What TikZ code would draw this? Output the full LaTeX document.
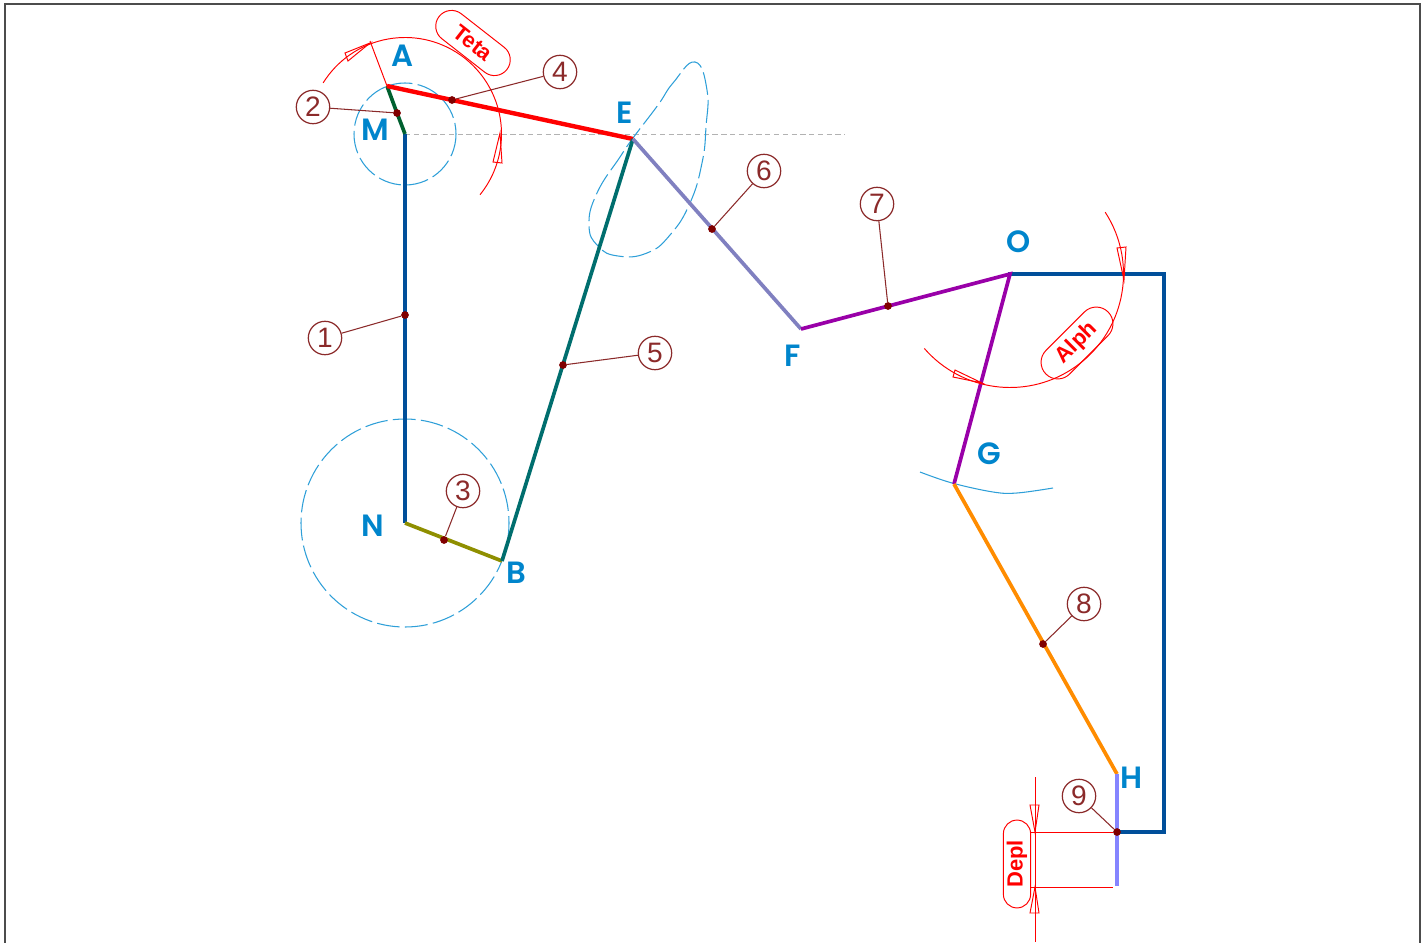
\documentclass[tikz,border=0pt]{standalone}
\usepackage{fontspec}
\usepackage{tikz}
\usetikzlibrary{shapes.misc}
\setmainfont{Poppins}
\newfontfamily\callfont{Liberation Sans}
\newfontfamily\letterfont{Poppins SemiBold}
\definecolor{linkblue}{HTML}{004F9A}
\definecolor{linkgreen}{HTML}{00602F}
\definecolor{linkolive}{HTML}{8F8F00}
\definecolor{linkteal}{HTML}{006E6E}
\definecolor{linklilac}{HTML}{8080C0}
\definecolor{linkpurple}{HTML}{9900A8}
\definecolor{linkorange}{HTML}{FF8C00}
\definecolor{linkslide}{HTML}{8585FF}
\definecolor{callred}{HTML}{8B2A2A}
\definecolor{dotred}{HTML}{800000}
\definecolor{pathblue}{HTML}{2E9FD8}
\definecolor{letterblue}{HTML}{0085CC}
\tikzset{
  link/.style={line width=2.1pt},
  pathline/.style={color=pathblue,line width=0.6pt},
  pathdash/.style={pathline,dash pattern=on 13pt off 3pt},
  dimline/.style={color=red,line width=0.55pt},
  letter/.style={text=letterblue,font=\letterfont\fontsize{17.5}{17.5}\selectfont},
  balloon/.style={draw=callred,circle,line width=0.7pt,minimum size=19pt,inner sep=0pt,
    text=callred,font=\callfont\fontsize{16}{16}\selectfont},
  dot/.style={circle,fill=dotred,minimum size=4.4pt,inner sep=0pt},
  leader/.style={color=callred,line width=0.6pt},
  pill/.style={draw=red,rounded rectangle,line width=0.55pt,inner sep=0pt,text=red,
    font=\callfont\fontsize{12.5}{12.5}\selectfont\bfseries}
}
\begin{document}
\begin{tikzpicture}[x=0.02cm,y=-0.02cm]
  \useasboundingbox (0,0) rectangle (1427,943);
  % frame
  \draw[color=black!70,line width=0.6pt] (5,943) -- (5,4) -- (1420,4) -- (1420,943);
  % joints
  \coordinate (M) at (405,134);
  \coordinate (N) at (405,523);
  \coordinate (A) at (387,86);
  \coordinate (B) at (502,561);
  \coordinate (E) at (633,139);
  \coordinate (F) at (801,329);
  \coordinate (O) at (1010,274);
  \coordinate (G) at (954,484);
  \coordinate (H) at (1117,774);
  \coordinate (Hend) at (1117,886);
  \coordinate (J) at (1117,832);
  \coordinate (Ocorner) at (1164,274);
  \coordinate (Jcorner) at (1164,832);
  \coordinate (Mline) at (845,134);
  % paths of the joints
  \draw[color=black!30,line width=0.55pt,densely dashed] (M) -- (Mline);
  \draw[pathdash] (M) circle [radius=51];
  \draw[pathdash] (N) circle [radius=104];
  \draw[pathdash] plot [smooth cycle,tension=0.8] coordinates {(695,62) (673,83) (658,105)
    (633,138) (620,157) (597,193) (589,225) (598,246) (618,256) (647,253) (670,235)
    (690,203) (702,163) (706,127) (707,90)};
  \draw[pathline] plot [smooth,tension=0.6] coordinates {(920,472) (952,483) (993,492) (1017,493) (1053,488)};
  % links
  \draw[link,color=linkblue] (M) -- (N);
  \draw[link,color=linkgreen] (A) -- (397,113) -- (M);
  \draw[link,color=linkolive] (N) -- (B);
  \draw[link,color=red,line width=2.5pt] (A) -- (E);
  \draw[link,color=linkteal] (B) -- (E);
  \draw[link,color=linklilac] (E) -- (F);
  \draw[link,color=linkblue,line cap=rect] (O) -- (Ocorner) -- (Jcorner) -- (J);
  \draw[link,color=linkpurple] (F) -- (O) -- (G);
  \draw[link,color=linkorange] (G) -- (H);
  \draw[link,color=linkslide] (H) -- (Hend);
  % angle Teta
  \draw[dimline] (M) ++(-148:96.5) arc [start angle=-148,end angle=39,radius=96.5];
  \draw[dimline] (A) -- (370,41);
  \draw[dimline] (370,43) -- (345,53) -- (348,61) -- cycle;
  \draw[dimline] (500,133) -- (493,162) -- (502,163) -- cycle;
  \node[pill,rotate=-38,minimum width=49pt,minimum height=18pt] (teta) at (473,43) {Teta};
  % angle Alph
  \draw[dimline] (O) ++(-33:113.5) arc [start angle=-33,end angle=139,radius=113.5];
  \draw[dimline] (1124,280) -- (1117,248) -- (1126,247) -- cycle;
  \draw[dimline] (982,383) -- (955,370) -- (953,377) -- cycle;
  \node[pill,rotate=45,minimum width=50pt,minimum height=19pt] (alph) at (1077,343) {Alph};
  % displacement Depl
  \coordinate (Dtop) at (1035,777);
  \coordinate (Dbot) at (1035,942);
  \draw[dimline] (Dtop) -- (Dbot);
  \draw[dimline] (1030,832) -- (1113,832);
  \draw[dimline] (1030,887) -- (1113,887);
  \draw[dimline] (1035,832) -- (1030,805) -- (1039,805) -- cycle;
  \draw[dimline] (1035,887) -- (1030,913) -- (1039,913) -- cycle;
  \node[pill,rotate=90,minimum width=50pt,minimum height=15.5pt] (depl) at (1017,864) {Depl};
  % letters
  \node[letter] (lA) at (403,56) {A};
  \node[letter] (lM) at (375,130) {M};
  \node[letter] (lE) at (625,113) {E};
  \node[letter] (lN) at (373,526) {N};
  \node[letter] (lB) at (516,573) {B};
  \node[letter] (lF) at (793,356) {F};
  \node[letter] (lO) at (1019,242) {O};
  \node[letter] (lG) at (989,454) {G};
  \node[letter] (lH) at (1132,778) {H};
  % balloons
  \node[dot] (d1) at (405,315) {};
  \node[dot] (d2) at (397,113) {};
  \node[dot] (d3) at (444,540) {};
  \node[dot] (d4) at (452,100) {};
  \node[dot] (d5) at (563,365) {};
  \node[dot] (d6) at (712,229) {};
  \node[dot] (d7) at (888,306) {};
  \node[dot] (d8) at (1043,644) {};
  \node[dot] (d9) at (1117,832) {};
  \node[balloon] (b1) at (325,338) {1};
  \node[balloon] (b2) at (313,107) {2};
  \node[balloon] (b3) at (463,491) {3};
  \node[balloon] (b4) at (560,72) {4};
  \node[balloon] (b5) at (655,353) {5};
  \node[balloon] (b6) at (764,171) {6};
  \node[balloon] (b7) at (877,204) {7};
  \node[balloon] (b8) at (1084,604) {8};
  \node[balloon] (b9) at (1079,796) {9};
  \draw[leader] (b1) -- (d1);
  \draw[leader] (b2) -- (d2);
  \draw[leader] (b3) -- (d3);
  \draw[leader] (b4) -- (d4);
  \draw[leader] (b5) -- (d5);
  \draw[leader] (b6) -- (d6);
  \draw[leader] (b7) -- (d7);
  \draw[leader] (b8) -- (d8);
  \draw[leader] (b9) -- (d9);
\end{tikzpicture}
\end{document}
